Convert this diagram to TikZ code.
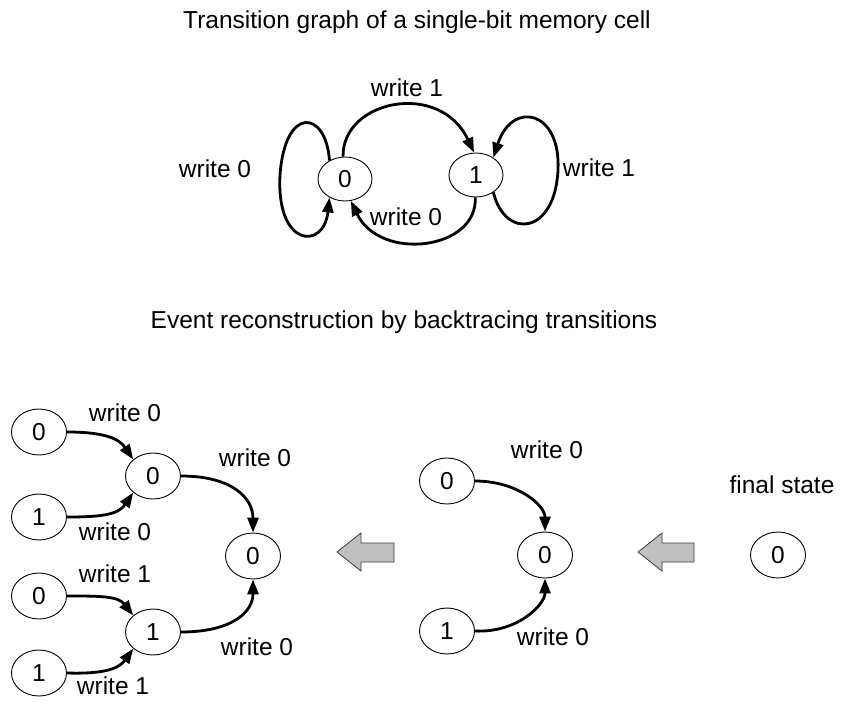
\documentclass[tikz,border=0pt]{standalone}
\usepackage{fontspec}
\setmainfont{Liberation Sans}
\usetikzlibrary{shapes.geometric,arrows.meta}
\begin{document}
\begin{tikzpicture}[x=1pt,y=-1pt,
  every node/.style={font=\fontsize{24.5}{29}\selectfont},
  lbl/.style={inner sep=0pt,text height=17.5pt,text depth=0pt},
  st/.style={draw,ellipse,line width=0.9pt,inner sep=0pt,minimum width=55pt,minimum height=46pt,text height=17.5pt,text depth=0pt},
  sttop/.style={st,minimum width=54pt,minimum height=44pt},
  edge/.style={line width=2.8pt,-{Triangle[length=15pt,width=11pt]}},
  bigarrow/.style={fill={rgb,255:red,192;green,192;blue,192},draw={rgb,255:red,60;green,60;blue,60},line width=0.8pt,line join=miter}]
\useasboundingbox (0,0) rectangle (856,709);

% titles
\node[lbl] (t1) at (417,20) {Transition graph of a single-bit memory cell};
\node[lbl] (t2) at (404,320) {Event reconstruction by backtracing transitions};

% top graph
\node[sttop] (n0) at (345,179) {0};
\node[sttop] (n1) at (476,175) {1};
\node[lbl] (l1) at (407,88) {write 1};
\node[lbl] (l2) at (215,169) {write 0};
\node[lbl] (l3) at (599,168) {write 1};
\node[lbl] (l4) at (406,217) {write 0};

\draw[edge] (n0.130) .. controls (326,110) and (285,105) .. (280,175)
  .. controls (276,248) and (324,250) .. (n0.-130);
\draw[edge] (n0.95) .. controls (342,100) and (440,80) .. (n1.95);
\draw[edge] (n1.-45) .. controls (505,240) and (555,235) .. (558,170)
  .. controls (561,110) and (512,100) .. (n1.45);
\draw[edge] (n1.-92) .. controls (478,250) and (380,262) .. (n0.-75);

% bottom left tree
\node[st] (a) at (39,432) {0};
\node[st] (b) at (39,517) {1};
\node[st] (c) at (153,476) {0};
\node[st] (d) at (39,596) {0};
\node[st] (e) at (39,673) {1};
\node[st] (f) at (153,632) {1};
\node[st] (g) at (253,556) {0};

\node[lbl] (la) at (125,413) {write 0};
\node[lbl] (lb) at (115,532) {write 0};
\node[lbl] (lc) at (255,458) {write 0};
\node[lbl] (ld) at (115,574) {write 1};
\node[lbl] (le) at (113,686) {write 1};
\node[lbl] (lf) at (257,647) {write 0};

\draw[edge] (a.east) .. controls (100,432) and (118,437) .. (c.140);
\draw[edge] (b.east) .. controls (100,517) and (118,515) .. (c.-140);
\draw[edge] (d.east) .. controls (100,596) and (118,596) .. (f.140);
\draw[edge] (e.east) .. controls (100,674) and (118,670) .. (f.-140);
\draw[edge] (c.east) .. controls (232,476) and (253,498) .. (g.north);
\draw[edge] (f.east) .. controls (232,632) and (253,612) .. (g.south);

% middle tree
\node[st] (h) at (447,481) {0};
\node[st] (i) at (545,555) {0};
\node[st] (j) at (447,631) {1};
\node[lbl] (lh) at (547,450) {write 0};
\node[lbl] (lj) at (553,637) {write 0};
\draw[edge] (h.east) .. controls (517,481) and (545,505) .. (i.north);
\draw[edge] (j.east) .. controls (517,633) and (545,605) .. (i.south);

% final state
\node[st] (k) at (778,555) {0};
\node[lbl] (lk) at (782,485) {final state};

% big gray arrows
\draw[bigarrow] (337,552) -- (361,533) -- (361,543) -- (394,543) -- (394,562) -- (361,562) -- (361,571) -- cycle;
\draw[bigarrow] (638,552) -- (662,533) -- (662,543) -- (694,543) -- (694,562) -- (662,562) -- (662,571) -- cycle;
\end{tikzpicture}
\end{document}
